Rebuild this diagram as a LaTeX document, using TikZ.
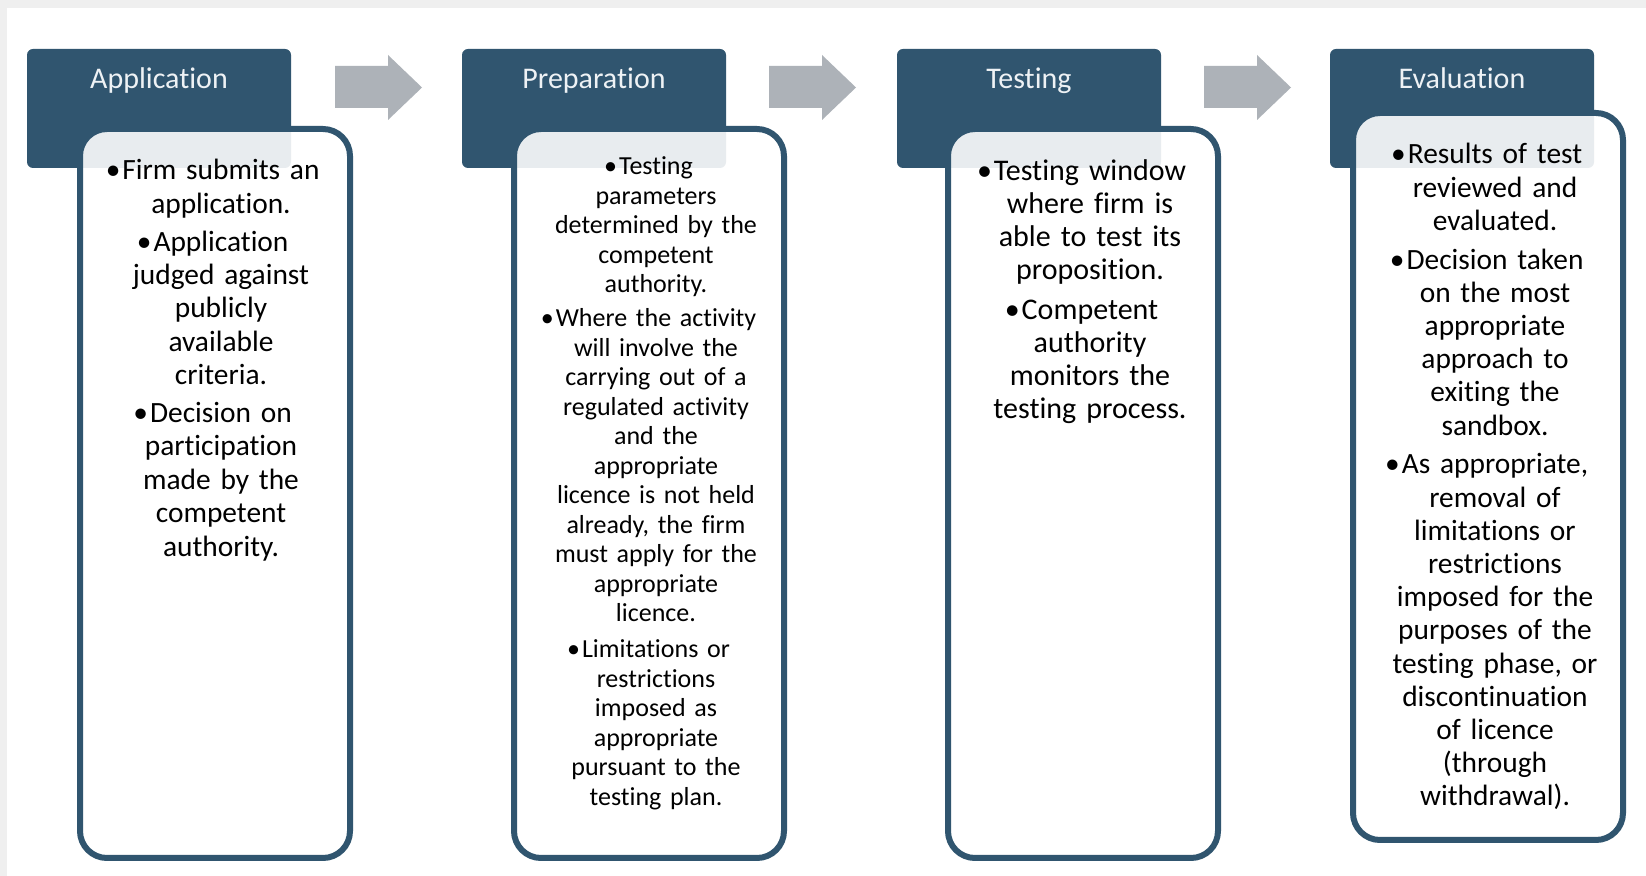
\documentclass[tikz,border=0pt]{standalone}
\usepackage{fontspec}
\setmainfont{Carlito}[Ligatures=NoCommon]
\definecolor{stepblue}{HTML}{30556F}
\definecolor{flowgray}{HTML}{ADB2B8}
\definecolor{pagegray}{HTML}{EFEFEF}
\definecolor{titletext}{HTML}{EEF2F5}
% hanging bullet in front of a centred line
\newcommand\hangbul{\leavevmode\llap{•\kern1pt}}
\begin{document}
\begin{tikzpicture}[x=0.5pt,y=-0.5pt,
  header/.style={rectangle, fill=stepblue, rounded corners=3pt,
    minimum width=132pt, minimum height=59.5pt, inner sep=0pt, outer sep=0pt,
    anchor=north west},
  title/.style={anchor=base, text=titletext, inner sep=0pt,
    font=\fontsize{15}{17}\selectfont},
  card/.style={rectangle, draw=stepblue, line width=3pt, fill=white,
    fill opacity=0.89, draw opacity=1, rounded corners=13.5pt,
    minimum width=135pt, minimum height=364.5pt, inner sep=0pt, outer sep=0pt},
  bodytext/.style={anchor=base, text width=150pt, align=center,
    inner sep=0pt, text=black},
  flowarrow/.pic={\fill[flowgray] (0,11) -- (53,11) -- (53,0) -- (87,32.5)
    -- (53,65) -- (53,53) -- (0,53) -- cycle;}
]
\useasboundingbox (0,0) rectangle (1646,876);
% page background
\fill[pagegray] (0,0) rectangle (1646,876);
\fill[white] (7,8) rectangle (1646,876);

% step headers
\node[header] (h1) at (27,49) {};
\node[header] (h2) at (462,49) {};
\node[header] (h3) at (897,49) {};
\node[header] (h4) at (1330,49) {};

\node[title] (l1) at (159,89) {Application};
\node[title] (l2) at (594,89) {Preparation};
\node[title] (l3) at (1029,89) {Testing};
\node[title] (l4) at (1462,89) {Evaluation};

% arrows between the steps
\pic at (335,55) {flowarrow};
\pic at (769,55) {flowarrow};
\pic at (1204,55) {flowarrow};

% detail cards
\node[card] (c1) at (215,493.5) {};
\node[card] (c2) at (649,493.5) {};
\node[card] (c3) at (1083,493.5) {};
\node[card, minimum height=363.5pt] (c4) at (1488,476.5) {};

\node[bodytext, font=\fontsize{14.7}{16.7}\selectfont] (t1) at (221,180)
 {\hangbul Firm submits an\\ application.\\[2.2pt]
  \hangbul Application\\ judged against\\ publicly\\ available\\ criteria.\\[2.2pt]
  \hangbul Decision on\\ participation\\ made by the\\ competent\\ authority.};

\node[bodytext, font=\fontsize{13}{14.75}\selectfont] (t2) at (656,175)
 {\hangbul Testing\\ parameters\\ determined by the\\ competent\\ authority.\\[2.2pt]
  \hangbul Where the activity\\ will involve the\\ carrying out of a\\ regulated activity\\
  and the\\ appropriate\\ licence is not held\\ already, the firm\\ must apply for the\\
  appropriate\\ licence.\\[3.2pt]
  \hangbul Limitations or\\ restrictions\\ imposed as\\ appropriate\\ pursuant to the\\ testing plan.};

\node[bodytext, font=\fontsize{15}{16.45}\selectfont] (t3) at (1090,181)
 {\hangbul Testing window\\ where firm is\\ able to test its\\ proposition.\\[3.5pt]
  \hangbul Competent\\ authority\\ monitors the\\ testing process.};

\node[bodytext, font=\fontsize{14.7}{16.6}\selectfont] (t4) at (1495,164)
 {\hangbul Results of test\\ reviewed and\\ evaluated.\\[2.8pt]
  \hangbul Decision taken\\ on the most\\ appropriate\\ approach to\\ exiting the\\ sandbox.\\[2.8pt]
  \hangbul As appropriate,\\ removal of\\ limitations or\\ restrictions\\ imposed for the\\
  purposes of the\\ testing phase, or\\ discontinuation\\ of licence\\ (through\\ withdrawal).};
\end{tikzpicture}
\end{document}
